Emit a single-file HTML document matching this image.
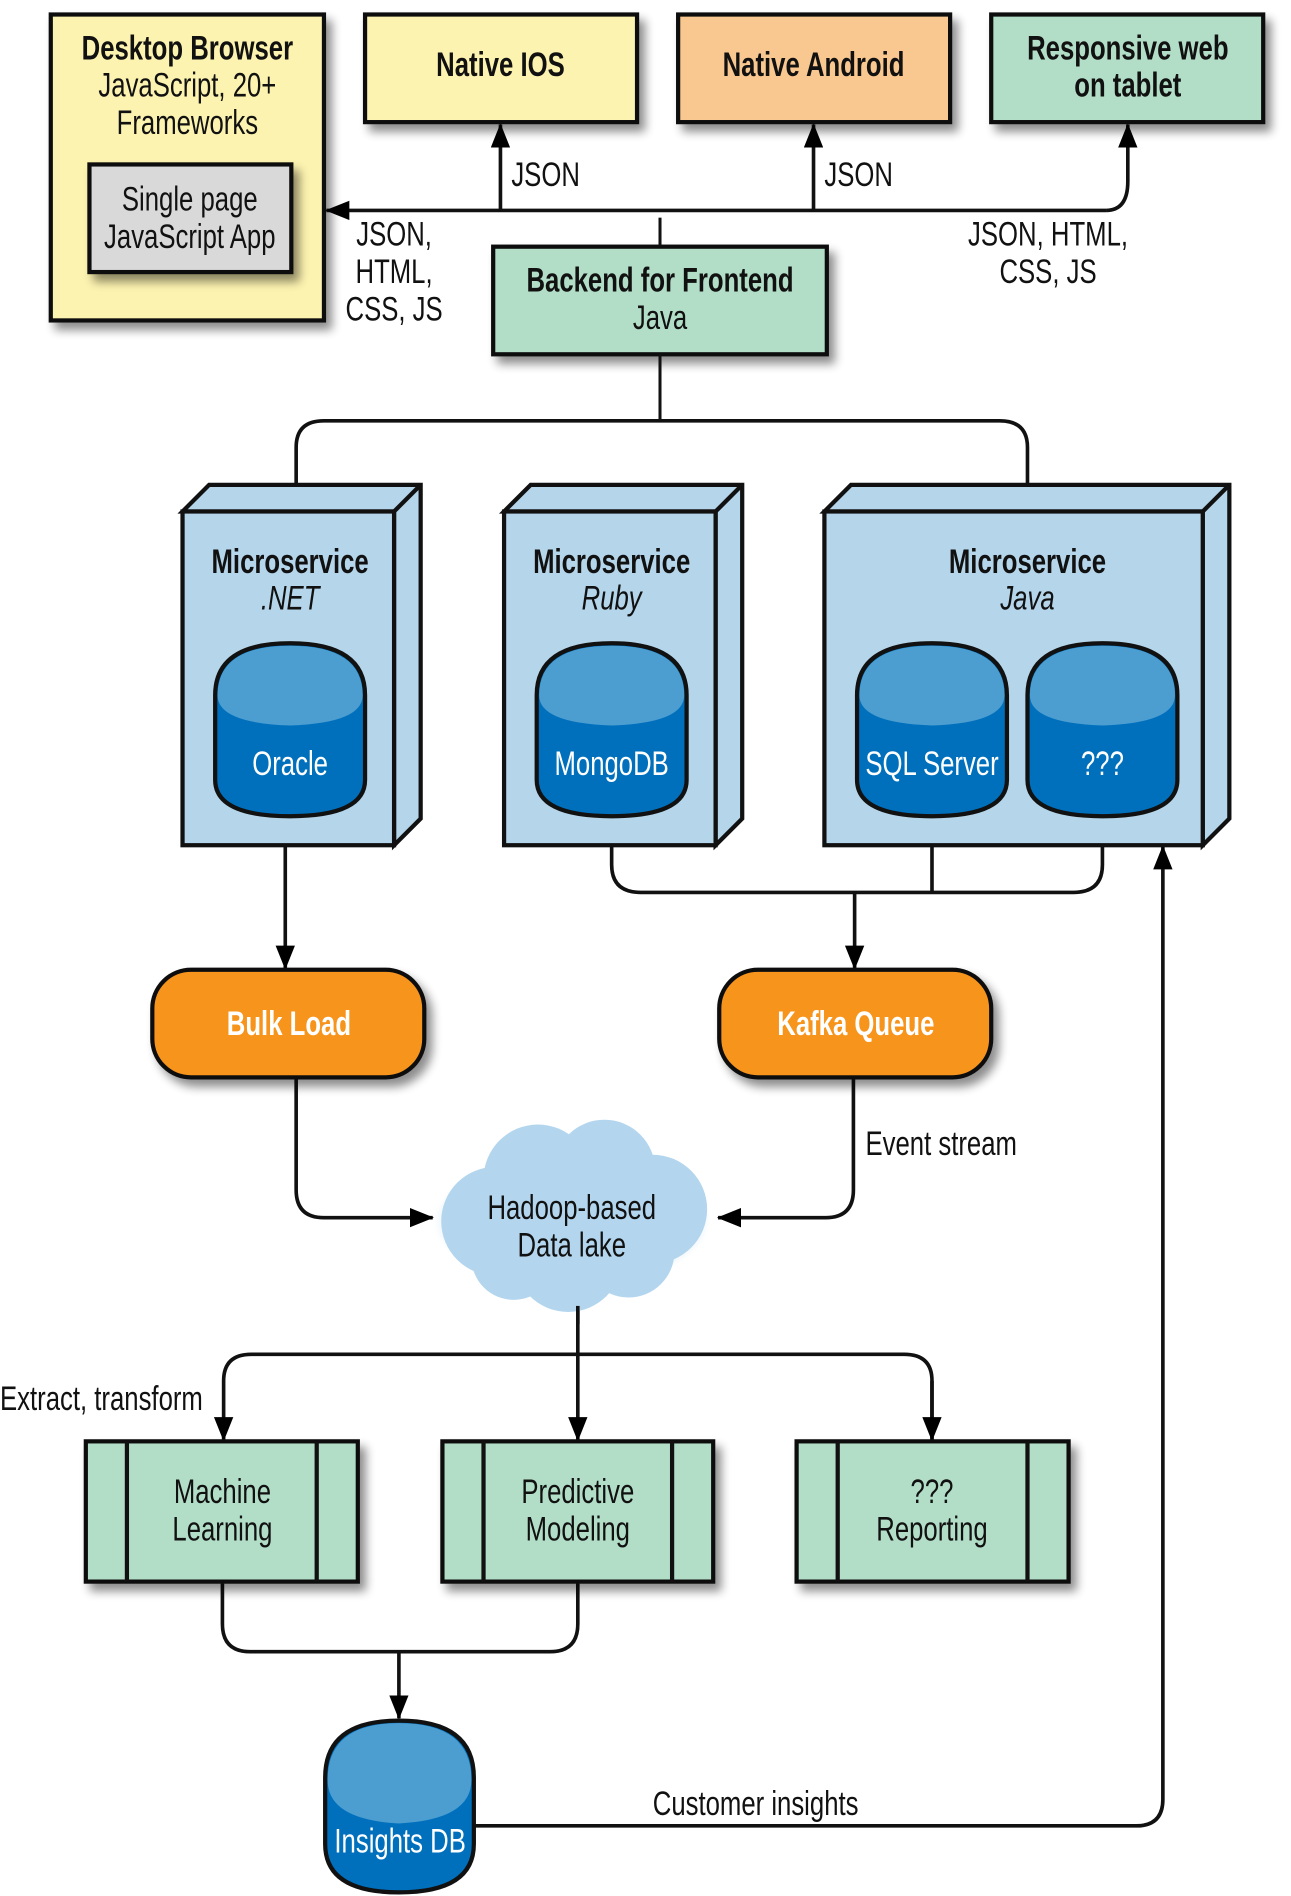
<!DOCTYPE html>
<html><head><meta charset="utf-8"><style>
html,body{margin:0;padding:0;background:#fff}
svg{display:block}
text{font-family:"Liberation Sans Narrow","Liberation Sans",sans-serif;fill:#111}
.b{font-weight:bold}
.w{fill:#fff}
</style></head><body>
<svg width="1291" height="1896" viewBox="0 0 1068 1568" preserveAspectRatio="none" xmlns="http://www.w3.org/2000/svg">
<defs>
<filter id="sh" x="-10%" y="-10%" width="130%" height="130%"><feGaussianBlur in="SourceAlpha" stdDeviation="4"/><feOffset dx="5" dy="6"/><feComponentTransfer><feFuncA type="linear" slope="0.45"/></feComponentTransfer><feMerge><feMergeNode/><feMergeNode in="SourceGraphic"/></feMerge></filter>
<marker id="ar" markerWidth="20" markerHeight="16" refX="19" refY="8" orient="auto" markerUnits="userSpaceOnUse" viewBox="0 0 20 16"><path d="M0,0 L20,8 L0,16 z" fill="#000"/></marker>
<radialGradient id="cl" cx="50%" cy="50%" r="50%"><stop offset="0.6" stop-color="#b3d6ee"/><stop offset="1" stop-color="#b3d6ee" stop-opacity="0"/></radialGradient>
</defs>
<g stroke="#111" stroke-width="3.5">
<rect x="42" y="12" width="226" height="253" fill="#fdf3b0" filter="url(#sh)"/>
<rect x="74" y="136" width="167" height="89" fill="#d9d9d9" filter="url(#sh)"/>
<rect x="302" y="12" width="225" height="89" fill="#fdf3b0" filter="url(#sh)"/>
<rect x="561" y="12" width="225" height="89" fill="#f9c890" filter="url(#sh)"/>
<rect x="820" y="12" width="225" height="89" fill="#b2dec8" filter="url(#sh)"/>
<rect x="408" y="204" width="276" height="89" fill="#b2dec8" filter="url(#sh)"/>
</g>
<g fill="none" stroke="#111" stroke-width="3">
<path d="M915,174 Q933,174 933,150 L933,103" marker-end="url(#ar)"/>
<path d="M915,174 L270,174" marker-end="url(#ar)"/>
<path d="M414,174 L414,103" marker-end="url(#ar)"/>
<path d="M673,174 L673,103" marker-end="url(#ar)"/>
<path d="M546,180 L546,204" stroke-width="2.5"/>
<path d="M546,293 L546,348" stroke-width="2.5"/>
<path d="M245,400 L245,370 Q245,348 268,348 L827,348 Q850,348 850,370 L850,400"/>
<path d="M236,675 L236,801" marker-end="url(#ar)"/>
<path d="M506,675 L506,715 Q506,738 530,738 L888,738 Q912,738 912,715 L912,675"/>
<path d="M771,675 L771,738"/>
<path d="M707,738 L707,801" marker-end="url(#ar)"/>
<path d="M245,891 L245,984 Q245,1007 268,1007 L358,1007" marker-end="url(#ar)"/>
<path d="M706,891 L706,984 Q706,1007 683,1007 L594,1007" marker-end="url(#ar)"/>
<path d="M478,1080 L478,1191" marker-end="url(#ar)"/>
<path d="M771,1191 L771,1142 Q771,1120 748,1120 L208,1120 Q185,1120 185,1142 L185,1191" marker-end="url(#ar)"/>
<path d="M771,1142 L771,1191" marker-end="url(#ar)"/>
<path d="M184,1308 L184,1343 Q184,1366 207,1366 L455,1366 Q478,1366 478,1343 L478,1308"/>
<path d="M330,1366 L330,1421" marker-end="url(#ar)"/>
<path d="M392,1510 L940,1510 Q962,1510 962,1488 L962,700" marker-end="url(#ar)"/>
</g>
<g stroke="#111" stroke-width="3.5" fill="#b4d5ea" stroke-linejoin="miter">
<path d="M151,423 L173,401 L348,401 L348,677 L326,699 L326,423 Z"/><rect x="151" y="423" width="175" height="276"/><path d="M326,423 L348,401"/>
<path d="M417,423 L439,401 L614,401 L614,677 L592,699 L592,423 Z"/><rect x="417" y="423" width="175" height="276"/><path d="M592,423 L614,401"/>
<path d="M682,423 L704,401 L1017,401 L1017,677 L995,699 L995,423 Z"/><rect x="682" y="423" width="313" height="276"/><path d="M995,423 L1017,401"/>
</g>
<g stroke="#111" stroke-width="3.5">
<path d="M178,575 L178,645 Q178,675 240,675 Q302,675 302,645 L302,575 Q302,532 240,532 Q178,532 178,575 Z" fill="#0070bd"/><path d="M180,575 Q180,534 240,534 Q300,534 300,575 Q300,598 240,600 Q180,598 180,575 Z" fill="#4c9dd0" stroke="none"/>
<path d="M444,575 L444,645 Q444,675 506,675 Q568,675 568,645 L568,575 Q568,532 506,532 Q444,532 444,575 Z" fill="#0070bd"/><path d="M446,575 Q446,534 506,534 Q566,534 566,575 Q566,598 506,600 Q446,598 446,575 Z" fill="#4c9dd0" stroke="none"/>
<path d="M709,575 L709,645 Q709,675 771,675 Q833,675 833,645 L833,575 Q833,532 771,532 Q709,532 709,575 Z" fill="#0070bd"/><path d="M711,575 Q711,534 771,534 Q831,534 831,575 Q831,598 771,600 Q711,598 711,575 Z" fill="#4c9dd0" stroke="none"/>
<path d="M850,575 L850,645 Q850,675 912,675 Q974,675 974,645 L974,575 Q974,532 912,532 Q850,532 850,575 Z" fill="#0070bd"/><path d="M852,575 Q852,534 912,534 Q972,534 972,575 Q972,598 912,600 Q852,598 852,575 Z" fill="#4c9dd0" stroke="none"/>
<path d="M269,1470 L269,1525 Q269,1565 330,1565 Q392,1565 392,1525 L392,1470 Q392,1423 330,1423 Q269,1423 269,1470 Z" fill="#0070bd"/><path d="M271,1472 Q271,1425 330,1425 Q390,1425 390,1472 Q390,1505 330,1508 Q271,1505 271,1472 Z" fill="#4c9dd0" stroke="none"/>
</g>
<g stroke="#111" stroke-width="3.5" fill="#f7941d">
<rect x="126" y="802" width="225" height="89" rx="32" filter="url(#sh)"/>
<rect x="595" y="802" width="225" height="89" rx="32" filter="url(#sh)"/>
</g>
<g fill="#b3d6ee">
<ellipse cx="473" cy="1010" rx="115" ry="55" fill="url(#cl)"/>
<circle cx="445" cy="975" r="45"/><circle cx="500" cy="968" r="42"/><circle cx="540" cy="1000" r="45"/><circle cx="410" cy="1010" r="45"/><circle cx="470" cy="1040" r="45"/><circle cx="520" cy="1035" r="38"/><circle cx="425" cy="1040" r="35"/><circle cx="473" cy="1005" r="55"/>
</g>
<path d="M478,1080 L478,1095" stroke="#111" stroke-width="3"/>
<g stroke="#111" stroke-width="3.5" fill="#b2dec8">
<rect x="71" y="1192" width="225" height="116" filter="url(#sh)"/><path d="M105,1192 V1308 M262,1192 V1308"/>
<rect x="366" y="1192" width="224" height="116" filter="url(#sh)"/><path d="M400,1192 V1308 M556,1192 V1308"/>
<rect x="659" y="1192" width="225" height="116" filter="url(#sh)"/><path d="M693,1192 V1308 M850,1192 V1308"/>
</g>
<g text-anchor="middle" font-size="28">
<text class="b" transform="translate(155 49) scale(.76 1)">Desktop Browser</text>
<text transform="translate(155 80) scale(.76 1)">JavaScript, 20+</text>
<text transform="translate(155 111) scale(.76 1)">Frameworks</text>
<text transform="translate(157 174) scale(.76 1)">Single page</text>
<text transform="translate(157 205) scale(.76 1)">JavaScript App</text>
<text class="b" transform="translate(414 63) scale(.76 1)">Native IOS</text>
<text class="b" transform="translate(673 63) scale(.76 1)">Native Android</text>
<text class="b" transform="translate(933 49) scale(.76 1)">Responsive web</text>
<text class="b" transform="translate(933 80) scale(.76 1)">on tablet</text>
<text class="b" transform="translate(546 241) scale(.76 1)">Backend for Frontend</text>
<text transform="translate(546 272) scale(.76 1)">Java</text>
<text transform="translate(326 203) scale(.76 1)">JSON,</text>
<text transform="translate(326 234) scale(.76 1)">HTML,</text>
<text transform="translate(326 265) scale(.76 1)">CSS, JS</text>
<text transform="translate(867 203) scale(.76 1)">JSON, HTML,</text>
<text transform="translate(867 234) scale(.76 1)">CSS, JS</text>
<text class="b" transform="translate(240 474) scale(.76 1)">Microservice</text>
<text font-style="italic" transform="translate(240 504) scale(.76 1)">.NET</text>
<text class="b" transform="translate(506 474) scale(.76 1)">Microservice</text>
<text font-style="italic" transform="translate(506 504) scale(.76 1)">Ruby</text>
<text class="b" transform="translate(850 474) scale(.76 1)">Microservice</text>
<text font-style="italic" transform="translate(850 504) scale(.76 1)">Java</text>
<text class="w" transform="translate(240 641) scale(.76 1)">Oracle</text>
<text class="w" transform="translate(506 641) scale(.76 1)">MongoDB</text>
<text class="w" transform="translate(771 641) scale(.76 1)">SQL Server</text>
<text class="w" transform="translate(912 641) scale(.76 1)">???</text>
<text class="b w" transform="translate(239 856) scale(.76 1)">Bulk Load</text>
<text class="b w" transform="translate(708 856) scale(.76 1)">Kafka Queue</text>
<text transform="translate(473 1008) scale(.76 1)">Hadoop-based</text>
<text transform="translate(473 1039) scale(.76 1)">Data lake</text>
<text transform="translate(184 1243) scale(.76 1)">Machine</text>
<text transform="translate(184 1274) scale(.76 1)">Learning</text>
<text transform="translate(478 1243) scale(.76 1)">Predictive</text>
<text transform="translate(478 1274) scale(.76 1)">Modeling</text>
<text transform="translate(771 1243) scale(.76 1)">???</text>
<text transform="translate(771 1274) scale(.76 1)">Reporting</text>
<text class="w" transform="translate(331 1532) scale(.76 1)">Insights DB</text>
</g>
<g font-size="28">
<text transform="translate(423 154) scale(.76 1)">JSON</text>
<text transform="translate(682 154) scale(.76 1)">JSON</text>
<text transform="translate(716 955) scale(.76 1)">Event stream</text>
<text transform="translate(0 1166) scale(.76 1)">Extract, transform</text>
<text transform="translate(540 1501) scale(.76 1)">Customer insights</text>
</g>
</svg>
</body></html>
